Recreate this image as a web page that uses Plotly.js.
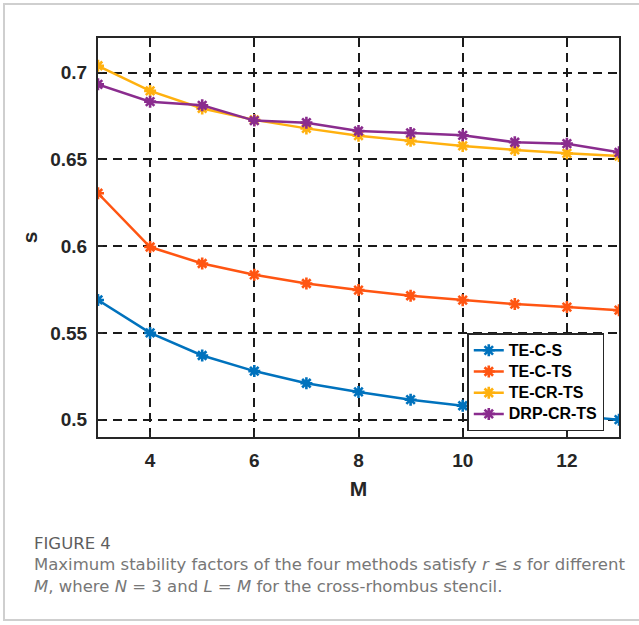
<!DOCTYPE html>
<html>
<head>
<meta charset="utf-8">
<script src="https://cdn.plot.ly/plotly-3.0.1.min.js"></script>
<style>
  html, body { margin: 0; padding: 0; background: #fff; }
  #frame { position: absolute; left: 3px; top: 3px; width: 700px; height: 618px; border: 2px solid #cfcfcf; border-right: none; box-sizing: border-box; pointer-events: none; z-index: 5; }
  #chart { position: absolute; left: 0; top: 0; width: 639px; height: 625px; }
</style>
</head>
<body>
<div id="chart"></div>
<div id="frame"></div>
<script>
const M = [3, 4, 5, 6, 7, 8, 9, 10, 11, 12, 13];
const seriesNames = ["TE-C-S", "TE-C-TS", "TE-CR-TS", "DRP-CR-TS"];
const teCS     = [0.569, 0.550, 0.537, 0.528, 0.521, 0.516, 0.5115, 0.508, 0.5052, 0.5024, 0.500];
const teCTS    = [0.6305, 0.5995, 0.590, 0.5835, 0.5785, 0.5747, 0.5714, 0.5689, 0.5666, 0.5649, 0.5631];
const teCRTS   = [0.704, 0.6895, 0.6794, 0.6728, 0.6679, 0.6637, 0.6607, 0.6578, 0.6555, 0.6535, 0.652];
const drpCRTS  = [0.6933, 0.6833, 0.6812, 0.6724, 0.6712, 0.6664, 0.6653, 0.6639, 0.6599, 0.6591, 0.6541];
const colors = ["#0072BD", "#FF5512", "#FFB10F", "#8A2C8E"];
const xTicks = [4, 6, 8, 10, 12];
const yTicks = [0.5, 0.55, 0.6, 0.65, 0.7];
const yTickText = ["0.5", "0.55", "0.6", "0.65", "0.7"];
const captionTitle = "FIGURE 4";
const captionLines = [
  "Maximum stability factors of the four methods satisfy <i>r</i> ≤ <i>s</i> for different",
  "<i>M</i>, where <i>N</i> = 3 and <i>L</i> = <i>M</i> for the cross-rhombus stencil."
];

const allY = [teCS, teCTS, teCRTS, drpCRTS];
const traces = allY.map((ys, i) => ({
  x: M, y: ys, name: "<span style='font-size:16px'>" + seriesNames[i] + "</span>",
  type: "scatter", mode: "lines+markers",
  line: { color: colors[i], width: 2.5 },
  marker: { symbol: "asterisk-open", size: 10, color: colors[i], line: { color: colors[i], width: 2.6 } }
}));

// plot area in px
const L = 98, R = 618.6, T = 38, B = 436.7, W = 639, H = 625;
const pw = R - L, ph = B - T;
const px = x => (x - L) / pw;
const py = y => (B - y) / ph;

const tickFont = { family: "Liberation Sans, Arial, sans-serif", size: 19, color: "#262626", weight: "bold" };

const capText =
  "<span style='color:#5e5e5e'>" + captionTitle + "</span><br>" + captionLines.join("<br>");

const layout = {
  width: W, height: H,
  margin: { l: L, r: W - R, t: T, b: H - B, pad: 0 },
  paper_bgcolor: "#fff", plot_bgcolor: "#fff",
  showlegend: true,
  legend: {
    x: px(467), y: py(333), xanchor: "left", yanchor: "top",
    bgcolor: "#fff", bordercolor: "#262626", borderwidth: 1.5,
    font: { family: "Liberation Sans, Arial, sans-serif", size: 14, color: "#000", weight: "bold" },
    itemwidth: 30, tracegroupgap: 0
  },
  xaxis: {
    range: [3, 13], tickvals: xTicks, ticktext: xTicks.map(String),
    showgrid: true, gridcolor: "#1a1a1a", gridwidth: 2, griddash: "9px,6px",
    showline: true, linecolor: "#262626", linewidth: 2, mirror: true,
    ticks: "inside", ticklen: 5, tickwidth: 1.5, tickcolor: "#262626",
    tickfont: tickFont, zeroline: false, automargin: false, ticklabelstandoff: 5,
    title: { text: "M", font: { family: "Liberation Sans, Arial, sans-serif", size: 21, color: "#262626", weight: "bold" }, standoff: 12 }
  },
  yaxis: {
    range: [0.49, 0.72], tickvals: yTicks, ticktext: yTickText,
    showgrid: true, gridcolor: "#1a1a1a", gridwidth: 2, griddash: "9px,6px",
    showline: true, linecolor: "#262626", linewidth: 2, mirror: true,
    ticks: "inside", ticklen: 5, tickwidth: 1.5, tickcolor: "#262626",
    tickfont: tickFont, zeroline: false, automargin: false, ticklabelstandoff: 5,
    title: { text: "s", font: { family: "Liberation Sans, Arial, sans-serif", size: 21, color: "#262626", weight: "bold" }, standoff: 7 }
  },
  annotations: [
    { xref: "paper", yref: "paper", x: px(32), y: py(532), xanchor: "left", yanchor: "top", align: "left", showarrow: false,
      text: capText,
      font: { family: "DejaVu Sans, sans-serif", size: 16.5, color: "#777777" } }
  ]
};

Plotly.newPlot("chart", traces, layout, { staticPlot: true, displayModeBar: false });
</script>
</body>
</html>
